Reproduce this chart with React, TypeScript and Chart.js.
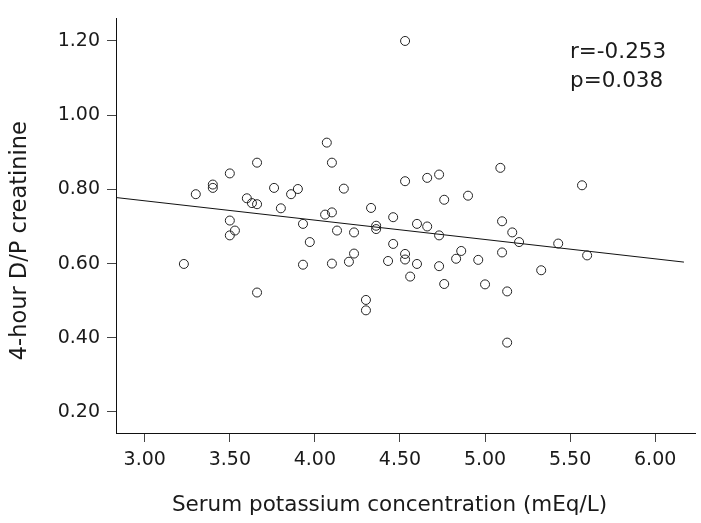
import React, { useEffect, useRef } from "react";
import { Chart, registerables } from "chart.js";

Chart.register(...registerables);

// Serum potassium (mEq/L)
const potassium = [
  3.23, 3.30, 3.40, 3.40, 3.50, 3.50, 3.53, 3.50, 3.60, 3.63,
  3.66, 3.66, 3.66, 3.76, 3.80, 3.86, 3.90, 3.93, 3.93, 3.97,
  4.06, 4.10, 4.10, 4.07, 4.13, 4.10, 4.17, 4.23, 4.23, 4.20,
  4.33, 4.36, 4.36, 4.43, 4.46, 4.46, 4.53, 4.53, 4.53, 4.53,
  4.56, 4.60, 4.60, 4.66, 4.66, 4.73, 4.73, 4.73, 4.76, 4.76,
  4.83, 4.86, 4.90, 4.96, 5.00, 5.09, 5.10, 5.10, 5.13, 5.13,
  5.16, 5.20, 5.33, 5.43, 5.57, 5.60, 4.30, 4.30,
];

// 4-hour D/P creatinine
const dpCreatinine = [
  0.599, 0.787, 0.813, 0.804, 0.843, 0.716, 0.689, 0.676, 0.776, 0.763,
  0.760, 0.872, 0.522, 0.804, 0.749, 0.787, 0.801, 0.707, 0.597, 0.658,
  0.732, 0.738, 0.872, 0.926, 0.689, 0.600, 0.802, 0.684, 0.627, 0.605,
  0.750, 0.702, 0.693, 0.607, 0.725, 0.653, 0.822, 0.626, 0.611, 1.200,
  0.565, 0.707, 0.599, 0.831, 0.700, 0.840, 0.676, 0.593, 0.772, 0.545,
  0.613, 0.634, 0.783, 0.610, 0.544, 0.858, 0.714, 0.630, 0.525, 0.387,
  0.684, 0.658, 0.582, 0.654, 0.811, 0.622, 0.502, 0.474,
];

// Fitted regression line end points
const fitX = [2.831, 6.169];
const fitY = [0.778, 0.604];

const xTicks = [3.0, 3.5, 4.0, 4.5, 5.0, 5.5, 6.0];
const yTicks = [0.2, 0.4, 0.6, 0.8, 1.0, 1.2];
const xRange = [2.831, 6.234];
const yRange = [0.1434, 1.2608];

const xTitle = "Serum potassium concentration (mEq/L)";
const yTitle = "4-hour D/P creatinine";
const statLines = ["r=-0.253", "p=0.038"];

const FONT = '"DejaVu Sans", "Liberation Sans", Arial, sans-serif';
const INK = "#1a1a1a";

const annotations = {
  id: "annotations",
  afterDraw(chart: any) {
    const { ctx, chartArea: a } = chart;
    ctx.save();
    ctx.fillStyle = INK;
    ctx.textBaseline = "alphabetic";

    // x axis title
    ctx.font = `21.5px ${FONT}`;
    ctx.textAlign = "center";
    ctx.fillText(xTitle, (a.left + a.right) / 2 - 16, a.bottom + 78);

    // stats
    ctx.textAlign = "left";
    ctx.fillText(statLines[0], a.right - 125, a.top + 40);
    ctx.fillText(statLines[1], a.right - 125, a.top + 69);

    // y axis title
    ctx.save();
    ctx.translate(a.left - 90, (a.top + a.bottom) / 2 + 15);
    ctx.rotate(-Math.PI / 2);
    ctx.font = `22.5px ${FONT}`;
    ctx.textAlign = "center";
    ctx.fillText(yTitle, 0, 0);
    ctx.restore();

    ctx.restore();
  },
};

export default function App() {
  const canvasRef = useRef<HTMLCanvasElement | null>(null);

  useEffect(() => {
    document.body.style.margin = "0";
    const canvas = canvasRef.current;
    if (!canvas) return;

    const points = potassium.map((x, i) => ({ x, y: dpCreatinine[i] }));
    const fit = fitX.map((x, i) => ({ x, y: fitY[i] }));

    const chart = new Chart(canvas, {
      type: "scatter",
      data: {
        datasets: [
          {
            label: "Patients",
            data: points,
            pointStyle: "circle",
            pointRadius: 4.5,
            pointHoverRadius: 4.5,
            pointBorderWidth: 1,
            borderColor: "#222",
            backgroundColor: "rgba(0,0,0,0)",
            order: 1,
          },
          {
            label: "Fit",
            data: fit,
            showLine: true,
            borderColor: "#111",
            borderWidth: 1,
            pointRadius: 0,
            pointHoverRadius: 0,
            order: 2,
          } as any,
        ],
      },
      options: {
        responsive: false,
        animation: false,
        devicePixelRatio: 1,
        layout: { padding: { top: 5, right: 6, left: 0, bottom: 0 } },
        plugins: {
          legend: { display: false },
          tooltip: { enabled: false },
          title: { display: false },
        },
        scales: {
          x: {
            type: "linear",
            min: xRange[0],
            max: xRange[1],
            afterBuildTicks: (scale: any) => {
              scale.ticks = xTicks.map((v) => ({ value: v }));
            },
            afterFit: (scale: any) => {
              scale.height = 90;
            },
            grid: {
              display: true,
              drawOnChartArea: false,
              drawTicks: true,
              tickLength: 9,
              color: "#444",
            },
            border: { display: true, color: "#111", width: 1 },
            ticks: {
              padding: 7,
              color: INK,
              font: { family: FONT, size: 19 },
              maxRotation: 0,
              autoSkip: false,
              callback: (v: any) => Number(v).toFixed(2),
            },
          },
          y: {
            type: "linear",
            min: yRange[0],
            max: yRange[1],
            afterBuildTicks: (scale: any) => {
              scale.ticks = yTicks.map((v) => ({ value: v }));
            },
            afterFit: (scale: any) => {
              scale.width = 116;
            },
            grid: {
              display: true,
              drawOnChartArea: false,
              drawTicks: true,
              tickLength: 9,
              color: "#444",
            },
            border: { display: true, color: "#111", width: 1 },
            ticks: {
              padding: 7,
              color: INK,
              font: { family: FONT, size: 19 },
              autoSkip: false,
              callback: (v: any) => Number(v).toFixed(2),
            },
          },
        },
      },
      plugins: [annotations],
    });

    return () => chart.destroy();
  }, []);

  return (
    <div style={{ position: "absolute", left: 0, top: 0, width: 701, height: 523 }}>
      <canvas ref={canvasRef} width={701} height={523} />
    </div>
  );
}
